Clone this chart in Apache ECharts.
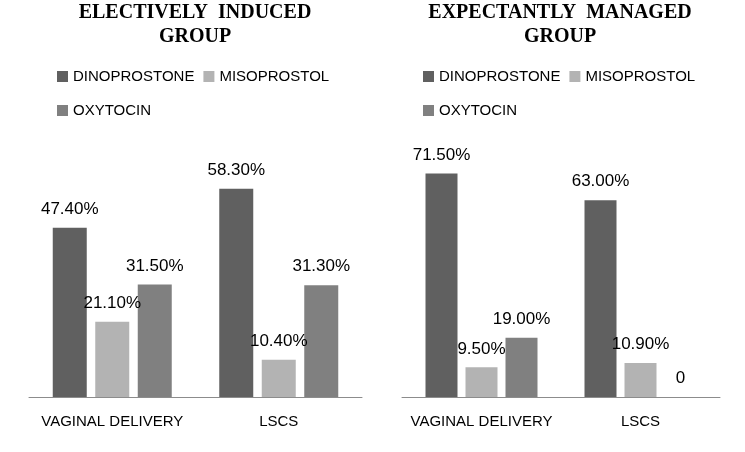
<!DOCTYPE html>
<html>
<head>
<meta charset="utf-8">
<script src="https://cdn.jsdelivr.net/npm/echarts@6/dist/echarts.min.js"></script>
<style>
  html, body { margin: 0; padding: 0; background: #fff; }
  #chart { width: 745px; height: 452px; }
</style>
</head>
<body>
<div id="chart"></div>
<script>
// data
const categories = ['VAGINAL DELIVERY', 'LSCS'];
const drugs = ['DINOPROSTONE', 'MISOPROSTOL', 'OXYTOCIN'];
const drugColors = ['#606060', '#b3b3b3', '#808080'];

const electiveDino = [47.4, 58.3];
const electiveMiso = [21.1, 10.4];
const electiveOxy = [31.5, 31.3];

const expectantDino = [71.5, 63.0];
const expectantMiso = [9.5, 10.9];
const expectantOxy = [19.0, 0];

const chart = echarts.init(document.getElementById('chart'));
const font = 'Liberation Sans, Arial, sans-serif';

function makeSeries(name, values, idx, color, barWidth) {
  return {
    name: name,
    type: 'bar',
    xAxisIndex: idx,
    yAxisIndex: idx,
    data: values,
    barWidth: barWidth,
    barGap: '25%',
    itemStyle: { color: color },
    label: {
      show: true,
      position: 'top',
      distance: 10,
      fontFamily: font,
      fontSize: 17,
      color: '#000',
      formatter: p => (p.value === 0 ? '0' : p.value.toFixed(2) + '%')
    }
  };
}

function legendAt(left, top, names) {
  return {
    left: left,
    top: top,
    padding: 0,
    itemWidth: 11,
    itemHeight: 11,
    itemGap: 9,
    icon: 'rect',
    data: names,
    textStyle: { fontFamily: font, fontSize: 15, color: '#000' }
  };
}

const titleStyle = {
  fontFamily: 'Liberation Serif, Times New Roman, serif',
  fontWeight: 'bold',
  fontSize: 20,
  lineHeight: 24,
  color: '#000'
};

const option = {
  animation: false,
  title: [
    { text: 'ELECTIVELY  INDUCED\nGROUP', left: 195, top: 1, padding: 0, textAlign: 'center', textStyle: titleStyle },
    { text: 'EXPECTANTLY  MANAGED\nGROUP', left: 560, top: 1, padding: 0, textAlign: 'center', textStyle: titleStyle }
  ],
  legend: [
    legendAt(57, 69, ['DINOPROSTONE', 'MISOPROSTOL']),
    legendAt(57, 103, ['OXYTOCIN']),
    legendAt(423, 69, ['DINOPROSTONE', 'MISOPROSTOL']),
    legendAt(423, 103, ['OXYTOCIN'])
  ],
  grid: [
    { left: 29, top: 147, width: 333, height: 250 },
    { left: 402, top: 147, width: 318, height: 250 }
  ],
  xAxis: [0, 1].map(i => ({
    type: 'category',
    gridIndex: i,
    data: categories,
    axisLine: { lineStyle: { color: '#8c8c8c', width: 1 } },
    axisTick: { show: false },
    axisLabel: { interval: 0, margin: 17, fontFamily: font, fontSize: 15, color: '#000' }
  })),
  yAxis: [
    { type: 'value', gridIndex: 0, min: 0, max: 70, show: false, splitLine: { show: false } },
    { type: 'value', gridIndex: 1, min: 0, max: 80, show: false, splitLine: { show: false } }
  ],
  series: [
    makeSeries(drugs[0], electiveDino, 0, drugColors[0], 34),
    makeSeries(drugs[1], electiveMiso, 0, drugColors[1], 34),
    makeSeries(drugs[2], electiveOxy, 0, drugColors[2], 34),
    makeSeries(drugs[0], expectantDino, 1, drugColors[0], 32),
    makeSeries(drugs[1], expectantMiso, 1, drugColors[1], 32),
    makeSeries(drugs[2], expectantOxy, 1, drugColors[2], 32)
  ]
};

chart.setOption(option);
</script>
</body>
</html>
